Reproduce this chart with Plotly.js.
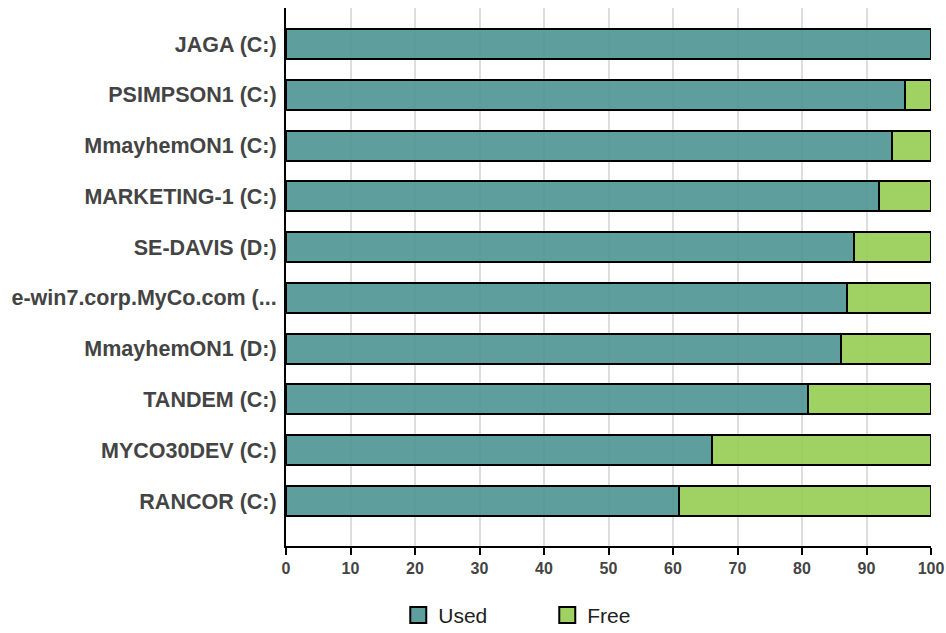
<!DOCTYPE html>
<html>
<head>
<meta charset="utf-8">
<script src="https://cdn.plot.ly/plotly-3.0.1.min.js"></script>
<style>html,body{margin:0;padding:0;background:#fff;}#chart{width:946px;height:633px;}</style>
</head>
<body>
<div id="chart"></div>
<script>
var categories = ["JAGA (C:)", "PSIMPSON1 (C:)", "MmayhemON1 (C:)", "MARKETING-1 (C:)", "SE-DAVIS (D:)", "e-win7.corp.MyCo.com (...", "MmayhemON1 (D:)", "TANDEM (C:)", "MYCO30DEV (C:)", "RANCOR (C:)"];
var usedValues = [100, 96, 94, 92, 88, 87, 86, 81, 66, 61];
var freeValues = [0, 4, 6, 8, 12, 13, 14, 19, 34, 39];
var xTickValues = [0, 10, 20, 30, 40, 50, 60, 70, 80, 90, 100];
var seriesNames = ['Used', 'Free'];
var seriesColors = ['rgba(77,147,145,0.9)', 'rgba(149,204,82,0.9)'];

var traces = [
  {type: 'bar', orientation: 'h', name: seriesNames[0], y: categories, x: usedValues, showlegend: false,
   marker: {color: seriesColors[0], line: {color: '#000', width: 2}}},
  {type: 'bar', orientation: 'h', name: seriesNames[1], y: categories, x: freeValues, showlegend: false,
   marker: {color: seriesColors[1], line: {color: '#000', width: 2}}}
];
// legend-only entries with larger square swatches
seriesNames.forEach(function (n, i) {
  traces.push({type: 'scatter', mode: 'markers', name: n, x: [null], y: [null], showlegend: true,
    marker: {symbol: 'square', size: 26, color: seriesColors[i], line: {color: '#000', width: 2}}});
});

var layout = {
  width: 946, height: 633,
  margin: {l: 286, r: 15, t: 8, b: 87, pad: 0, autoexpand: false},
  barmode: 'stack',
  bargap: 0.41,
  paper_bgcolor: '#fff', plot_bgcolor: '#fff',
  font: {family: 'Liberation Sans, Arial, sans-serif', color: '#444'},
  xaxis: {
    range: [0, 100], tickvals: xTickValues, ticktext: xTickValues.map(String),
    showgrid: true, gridcolor: '#dddddd', gridwidth: 2, zeroline: false,
    showline: true, linecolor: '#000', linewidth: 2,
    ticks: 'outside', ticklen: 7, tickwidth: 2, tickcolor: '#000',
    tickfont: {family: 'Liberation Sans Narrow, Liberation Sans, Arial', size: 16, color: '#444', weight: 'bold'},
    fixedrange: true, automargin: false
  },
  yaxis: {
    type: 'category', range: [9.886, -0.709],
    showgrid: false, zeroline: false,
    showline: true, linecolor: '#000', linewidth: 2,
    ticks: '', ticklabelstandoff: 3,
    tickfont: {family: 'Liberation Sans, Arial', size: 21.5, color: '#444', weight: 'bold'},
    fixedrange: true, automargin: false
  },
  showlegend: true,
  legend: {
    orientation: 'h', x: 0.421, xref: 'container', xanchor: 'left',
    y: 0.028, yref: 'container', yanchor: 'middle',
    font: {family: 'Liberation Sans, Arial', size: 21, color: '#222'},
    itemwidth: 30, itemsizing: 'trace', traceorder: 'normal', entrywidth: 104, bgcolor: 'rgba(0,0,0,0)'
  }
};

Plotly.newPlot('chart', traces, layout, {displayModeBar: false, staticPlot: true});
</script>
</body>
</html>
